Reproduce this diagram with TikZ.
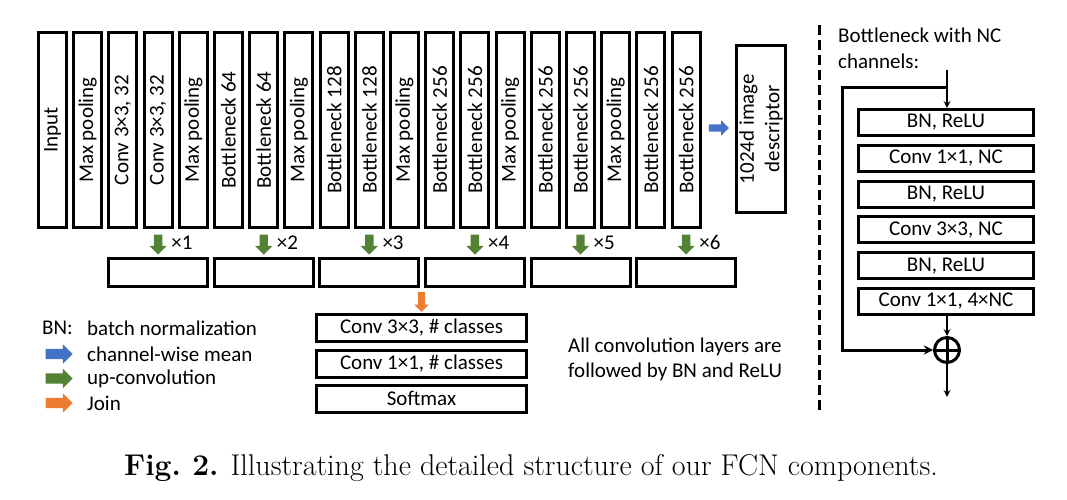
\documentclass[tikz,border=0pt]{standalone}
\usepackage{fontspec}
\setmainfont{Carlito}
\newfontfamily\capfont{Latin Modern Roman}
\usetikzlibrary{shapes.arrows,positioning}
\definecolor{arrblue}{HTML}{4472C4}
\definecolor{arrgreen}{HTML}{548235}
\definecolor{arrorange}{HTML}{ED7D31}
\tikzset{
	layer/.style={draw,line width=3pt,inner sep=0pt,rotate=90,minimum width=195pt,minimum height=28pt},
	upbox/.style={draw,line width=3pt,inner sep=0pt,minimum width=99pt,minimum height=28pt},
	headbox/.style={draw,line width=3pt,inner sep=0pt,minimum width=210pt,minimum height=27pt},
	bnbox/.style={draw,line width=3pt,inner sep=0pt,minimum width=175pt,minimum height=26pt},
	blockarr/.style={single arrow,fill=#1,draw=none,single arrow head indent=0pt},
}
\begin{document}
\begin{tikzpicture}[x=1pt,y=-1pt,font=\fontsize{21}{25.5}\selectfont]
		\useasboundingbox (0,0) rectangle (1067,500);
		\foreach \t [count=\i] in {Input,Max pooling,{Conv 3×3, 32},{Conv 3×3, 32},Max pooling,Bottleneck 64,Bottleneck 64,Max pooling,Bottleneck 128,Bottleneck 128,Max pooling,Bottleneck 256,Bottleneck 256,Max pooling,Bottleneck 256,Bottleneck 256,Max pooling,Bottleneck 256,Bottleneck 256}
			\node[layer] (l\i) at ({52.5+35.2*(\i-1)},130) {\t};
		\node[draw,line width=3pt,inner sep=0pt,rotate=90,minimum width=167pt,minimum height=49pt,align=center] (desc) at (761,129) {1024d image\\descriptor};
		\node[blockarr=arrblue,inner sep=3.5pt,minimum height=20pt,single arrow head extend=4pt] (mean) at (717,128) {};
		\foreach \k in {1,...,6}{
			\pgfmathtruncatemacro\j{3*\k+1}
			\node[upbox] (u\k) at (l\j |- 0,272.5) {};
			\node[blockarr=arrgreen,shape border rotate=270,inner sep=4pt,minimum height=20pt,single arrow head extend=4.5pt] (g\k) at (l\j |- 0,242.5) {};
			\node[anchor=west,inner sep=0pt] (x\k) at ([xshift=13pt]g\k.center) {×\k};
		}
		\node[blockarr=arrorange,shape border rotate=270,inner sep=3.5pt,minimum height=20pt,single arrow head extend=3.5pt] (join) at (421.5,300) {};
		\node[headbox] (h1) at (421.5,328) {Conv 3×3, \# classes};
		\node[headbox] (h2) at (421.5,364) {Conv 1×1, \# classes};
		\node[headbox] (h3) at (421.5,398.5) {Softmax};
		\node[anchor=west,inner sep=0pt] (bnkey) at (42,328) {BN:};
		\node[anchor=west,inner sep=0pt] (bntxt) at (87,328) {batch normalization};
		\foreach \c/\t [count=\i] in {arrblue/channel-wise mean,arrgreen/up-convolution,arrorange/Join}{
			\node[blockarr=\c,inner sep=5pt,minimum height=27pt,single arrow head extend=4.5pt] (k\i) at (56.5,{354+24.5*(\i-1)}) {};
			\node[anchor=west,inner sep=0pt] (kt\i) at (87,{354+24.5*(\i-1)}) {\t};
		}
		\node[anchor=west,align=left,inner sep=0pt] (note) at (568,359.5) {All convolution layers are\\followed by BN and ReLU};
		\draw[line width=3pt,dash pattern=on 10pt off 5pt](819,25)--(819,413);
		\node[anchor=west,align=left,inner sep=0pt] (bntitle) at (838,48.5) {Bottleneck with NC\\channels:};
		\foreach \t [count=\i] in {{BN, ReLU},{Conv 1×1, NC},{BN, ReLU},{Conv 3×3, NC},{BN, ReLU},{Conv 1×1, 4×NC}}
			\node[bnbox] (b\i) at (946,{122.5+35.8*(\i-1)}) {\t};
		\node[circle,draw,line width=3pt,minimum size=25pt,inner sep=0pt] (sum) at (947,350) {};
		\draw[line width=3pt](sum.north)--(sum.south) (sum.west)--(sum.east);
		\coordinate (in) at (947,70);
		\coordinate (br) at (947,88);
		\coordinate (out) at (947,397);
		\draw[-stealth,line width=2pt](in)--(in |- b1.north);
		\draw[-stealth,line width=3pt](br)--++(-105,0)|-(sum.west);
		\draw[-stealth,line width=2pt](sum.north |- b6.south)--(sum.north);
		\draw[-stealth,line width=2pt](sum.south)--(out);
		\node[font=\capfont\fontsize{30}{36}\selectfont] (cap) at (531,468) {\textbf{Fig.~2.} Illustrating the detailed structure of our FCN components.};
		\end{tikzpicture}
\end{document}
